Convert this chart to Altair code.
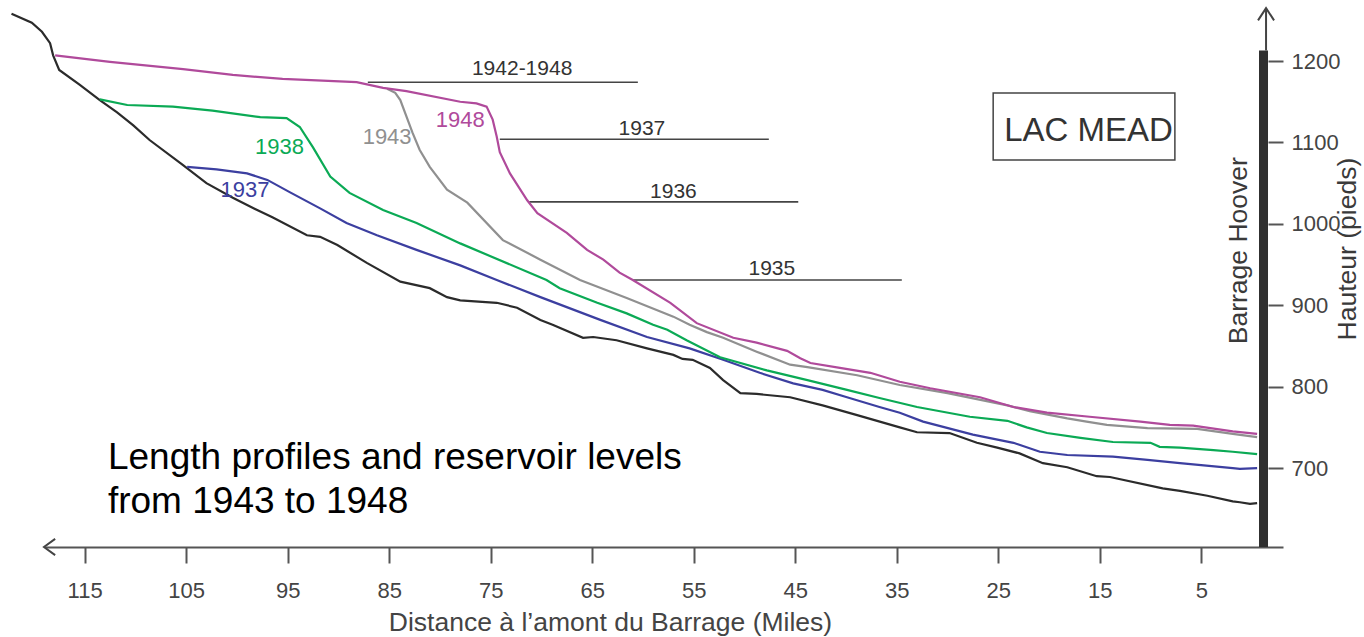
import altair as alt
import pandas as pd

# ---- Longitudinal profiles of Lake Mead (miles upstream of Hoover Dam, elevation in ft) ----
SERIES = ["1935", "1937", "1938", "1943", "1948"]
COLORS = ["#2b2b2b", "#3c3fa0", "#0baa55", "#909090", "#b04a9b"]

BED_MILE = [122.2, 120.2, 119.2, 118.4, 118.1, 117.5, 115.5, 113.5, 111.8, 110.2, 108.6, 105.3,
            103.0, 100.4, 98.0, 96.5, 93.1, 91.8, 90.1, 87.2, 83.9, 81.0, 79.3, 78.0, 74.4, 72.4,
            70.1, 68.9, 65.9, 64.9, 62.6, 59.6, 57.0, 56.1, 55.1, 53.4, 52.1, 50.4, 48.8, 45.5,
            42.3, 38.9, 34.7, 33.0, 29.8, 27.1, 25.1, 22.9, 20.6, 18.2, 15.3, 14.0, 8.8, 7.1,
            4.4, 1.9, 1.2, 0.2, -0.5]
BED_FT = [1258, 1247, 1236, 1222, 1207, 1189, 1171, 1152, 1137, 1121, 1103, 1072,
          1050, 1032, 1017, 1008, 986, 984, 974, 952, 929, 921, 910, 906, 903, 897,
          882, 876, 860, 861, 857, 847, 839, 834, 833, 823, 808, 792, 791, 787,
          777, 765, 750, 744, 743, 731, 725, 718, 706, 701, 690, 689, 675, 672,
          666, 659, 658, 656, 657]

P1937_MILE = [104.9, 102.0, 99.0, 97.0, 94.8, 91.8, 89.2, 86.2, 82.3, 78.0, 74.4, 70.1, 64.2,
              59.6, 55.4, 52.1, 48.5, 45.2, 42.3, 39.9, 36.7, 34.7, 32.4, 27.5, 23.5, 20.9,
              18.2, 13.7, 10.3, 7.1, 1.9, 1.2, -0.5]
P1937_FT = [1070, 1067, 1062, 1054, 1039, 1019, 1001, 986, 968, 949, 931, 910, 882,
            861, 847, 833, 817, 804, 796, 787, 775, 768, 757, 741, 731, 720,
            716, 714, 710, 706, 700, 699, 700]

P1938_MILE = [113.5, 110.8, 106.3, 102.4, 97.7, 95.1, 93.8, 92.5, 90.8, 88.9, 85.6, 82.3, 78.0,
              69.5, 68.2, 64.5, 61.6, 59.0, 57.6, 55.7, 52.4, 47.8, 43.8, 39.9, 36.7, 33.0,
              27.8, 24.1, 22.2, 20.2, 16.9, 13.7, 10.0, 9.1, 7.1, 3.8, 1.9, -0.5]
P1938_FT = [1153, 1146, 1144, 1139, 1131, 1130, 1119, 1094, 1058, 1038, 1017, 1001, 976,
            931, 921, 903, 890, 876, 870, 857, 836, 820, 808, 796, 786, 775,
            763, 758, 750, 743, 737, 732, 731, 726, 725, 722, 720, 717]

P1943_MILE = [85.2, 84.4, 83.9, 82.7, 82.0, 81.0, 79.3, 77.3, 73.8, 70.1, 66.2, 61.6, 57.0,
              55.4, 53.7, 52.1, 48.8, 45.5, 43.8, 38.9, 34.7, 30.0, 24.1, 21.9, 18.2, 16.3,
              14.3, 10.3, 5.4, 1.9, -0.5]
P1943_FT = [1166, 1161, 1152, 1112, 1091, 1070, 1042, 1026, 980, 956, 931, 909, 886,
            876, 867, 860, 843, 827, 824, 814, 802, 792, 777, 770, 761, 757,
            753, 749, 748, 742, 738]

P1948_MILE = [117.9, 112.5, 105.3, 100.4, 95.5, 88.2, 85.6, 83.3, 78.0, 76.4, 75.4, 74.8, 74.4,
              74.1, 73.1, 71.4, 70.4, 67.5, 65.5, 63.9, 62.3, 61.0, 57.3, 54.7, 51.1, 48.8,
              45.8, 44.5, 43.5, 40.6, 37.6, 34.7, 31.7, 26.8, 23.5, 20.2, 16.0, 11.0, 8.1,
              5.8, 1.9, -0.5]
P1948_FT = [1207, 1199, 1190, 1183, 1178, 1174, 1167, 1163, 1150, 1148, 1144, 1128, 1107,
            1088, 1062, 1029, 1013, 989, 968, 956, 940, 931, 903, 878, 860, 854,
            844, 835, 829, 823, 817, 806, 798, 787, 775, 768, 763, 757, 753,
            752, 745, 742]

# Reservoir delta fronts: horizontal reference levels with their year labels
LEVEL_TEXT = ["1942-1948", "1937", "1936", "1935"]
LEVEL_FROM = [87.1, 74.1, 71.2, 61.0]
LEVEL_TO = [60.5, 47.6, 44.7, 34.5]
LEVEL_FT = [1174, 1104, 1027, 931]
LEVEL_LABEL_MILE = [71.9, 60.1, 57.0, 47.3]
LEVEL_LABEL_FT = [1183, 1109, 1032, 937]

# Year labels written next to each profile
TAG_SERIES = ["1948", "1943", "1938", "1937"]
TAG_MILE = [78.0, 85.2, 95.8, 99.2]
TAG_FT = [1119, 1098, 1086, 1033]

X_TICKS = [115, 105, 95, 85, 75, 65, 55, 45, 35, 25, 15, 5]
Y_TICKS = [700, 800, 900, 1000, 1100, 1200]

DAM_MILE = -1.13
DAM_TOP = 1213

FONT = "Liberation Sans"

profiles = [("1935", BED_MILE, BED_FT), ("1937", P1937_MILE, P1937_FT),
            ("1938", P1938_MILE, P1938_FT), ("1943", P1943_MILE, P1943_FT),
            ("1948", P1948_MILE, P1948_FT)]
rows = []
for name, ms, fs in profiles:
    for i, (m, f) in enumerate(zip(ms, fs)):
        rows.append({"series": name, "mile": m, "ft": f, "idx": i})
lines_df = pd.DataFrame(rows)

levels_df = pd.DataFrame({"label": LEVEL_TEXT, "mile": LEVEL_FROM, "mile2": LEVEL_TO,
                          "ft": LEVEL_FT, "lmile": LEVEL_LABEL_MILE, "lft": LEVEL_LABEL_FT})
tags_df = pd.DataFrame({"series": TAG_SERIES, "mile": TAG_MILE, "ft": TAG_FT})

xscale = alt.Scale(domain=[-3.05, 118.9], reverse=True, nice=False, zero=False)
yscale = alt.Scale(domain=[603, 1275], nice=False, zero=False)
cscale = alt.Scale(domain=SERIES, range=COLORS)

x_axis = alt.Axis(values=X_TICKS, grid=False, title="Distance à l’amont du Barrage (Miles)",
                  domainColor="#555555", domainWidth=2, tickColor="#555555", tickWidth=2,
                  tickSize=16, labelFont=FONT, labelFontSize=22, labelColor="#444444",
                  labelPadding=17, titleFont=FONT, titleFontSize=26.5, titleColor="#444444",
                  titleFontWeight="normal", titleX=565, titleY=83, titleBaseline="alphabetic",
                  titleAlign="center", labelFlush=False, format="d")
y_axis = alt.Axis(values=Y_TICKS, orient="right", grid=False, domain=False, title=None,
                  offset=-15, tickColor="#555555", tickWidth=2, tickSize=15, format="d",
                  labelFont=FONT, labelFontSize=22, labelColor="#444444", labelPadding=8)


def X(field="mile"):
    return alt.X(f"{field}:Q", scale=xscale, axis=x_axis)


def Y(field="ft"):
    return alt.Y(f"{field}:Q", scale=yscale, axis=y_axis)


line_layer = alt.Chart(lines_df).mark_line(strokeWidth=2.2, clip=False).encode(
    x=X(), y=Y(),
    color=alt.Color("series:N", scale=cscale, legend=None),
    detail="series:N",
    order=alt.Order("idx:Q"),
)

level_rules = alt.Chart(levels_df).mark_rule(color="#444444", strokeWidth=1.6).encode(
    x=X(), x2="mile2:Q", y=Y(),
)
level_text = alt.Chart(levels_df).mark_text(
    font=FONT, fontSize=21, color="#333333", align="center", baseline="alphabetic"
).encode(x=X("lmile"), y=Y("lft"), text="label:N")

tag_text = alt.Chart(tags_df).mark_text(
    font=FONT, fontSize=22, align="center", baseline="alphabetic"
).encode(x=X(), y=Y(), text="series:N",
         color=alt.Color("series:N", scale=cscale, legend=None))

# Hoover Dam wall with the vertical arrow above it
dam_df = pd.DataFrame({"mile": [DAM_MILE], "ft": [603], "ft2": [DAM_TOP]})
dam = alt.Chart(dam_df).mark_rule(color="#2f2f2f", strokeWidth=9, strokeCap="butt").encode(
    x=X(), y=Y(), y2="ft2:Q"
)

arrow_df = pd.DataFrame({
    "part": ["shaft", "shaft", "up", "up", "up", "left", "left", "left"],
    "mile": [-1.38, -1.38, -0.59, -1.38, -2.17, 117.9, 119.0, 117.9],
    "ft": [DAM_TOP, 1265, 1250, 1265, 1250, 613, 603, 593],
    "idx": [0, 1, 0, 1, 2, 0, 1, 2],
})
arrows = alt.Chart(arrow_df).mark_line(color="#444444", strokeWidth=2, clip=False).encode(
    x=X(), y=Y(), detail="part:N", order=alt.Order("idx:Q")
)

# "LAC MEAD" framed label
box_df = pd.DataFrame({"mile": [25.5], "mile2": [7.6], "ft": [1160.7], "ft2": [1078.4]})
box = alt.Chart(box_df).mark_rect(fillOpacity=0, stroke="#444444", strokeWidth=1.5).encode(
    x=X(), x2="mile2:Q", y=Y(), y2="ft2:Q"
)
lake_df = pd.DataFrame({"mile": [16.1], "ft": [1101.7], "t": ["LAC MEAD"]})
lake = alt.Chart(lake_df).mark_text(
    font=FONT, fontSize=33, color="#333333", align="center", baseline="alphabetic"
).encode(x=X(), y=Y(), text="t:N")

# Caption in the lower left
cap_df = pd.DataFrame({"mile": [112.7, 112.7], "ft": [699, 645],
                       "t": ["Length profiles and reservoir levels", "from 1943 to 1948"]})
caption = alt.Chart(cap_df).mark_text(
    font=FONT, fontSize=37, color="#000000", align="left", baseline="alphabetic"
).encode(x=X(), y=Y(), text="t:N")

# Vertical titles beside the dam
vt_df = pd.DataFrame({"mile": [1.28, -9.5], "ft": [967, 969],
                      "t": ["Barrage Hoover", "Hauteur (pieds)"]})
vtitles = alt.Chart(vt_df).mark_text(
    font=FONT, fontSize=26.5, color="#3a3a3a", align="center", baseline="middle", angle=270
).encode(x=X(), y=Y(), text="t:N")

chart = alt.layer(
    level_rules, line_layer, dam, arrows, level_text, tag_text, box, lake, caption, vtitles
).properties(
    width=1238, height=547,
    autosize=alt.AutoSizeParams(type="none"),
    padding={"left": 45, "top": 0, "right": 81, "bottom": 90},
    background="white",
).configure_view(stroke=None)

chart.save("out.html", embed_options={"renderer": "svg", "actions": False})
